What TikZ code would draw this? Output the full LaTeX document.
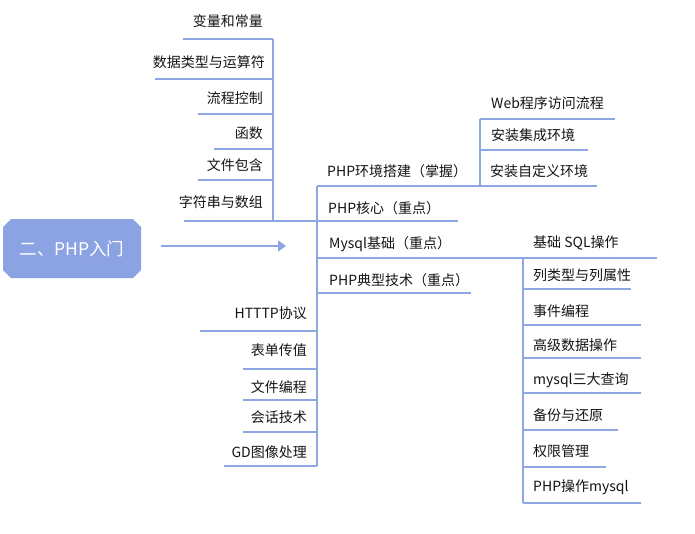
\documentclass[tikz,border=0pt]{standalone}
\usepackage{fontspec}
\setmainfont{Noto Sans CJK SC}
\usetikzlibrary{arrows.meta}
\definecolor{linec}{RGB}{142,166,228}
\definecolor{rootc}{RGB}{139,163,227}
\definecolor{txt}{RGB}{20,20,20}
\begin{document}
\begin{tikzpicture}[x=1pt,y=-1pt,
  branch/.style={draw=linec,line width=2pt},
  lbl/.style={font=\fontsize{14}{17}\selectfont,text=txt,inner sep=0pt},
  lblr/.style={lbl,anchor=east},
  lbll/.style={lbl,anchor=west},
  rootbox/.style={rectangle,draw=none,minimum width=138pt,minimum height=59pt,inner sep=0pt,
    text=white,font=\fontsize{17.5}{20}\selectfont}]
\useasboundingbox (0,0) rectangle (695,533);

% root box with cut corners
\fill[rootc] (11,219) -- (133,219) -- (141,227) -- (141,270) -- (133,278)
  -- (11,278) -- (3,270) -- (3,227) -- cycle;
\node[rootbox] (root) at (72,248.5) {二、PHP入门};
\coordinate (arrS) at (161,246);
\coordinate (arrE) at (286,246);
\draw[draw=linec,fill=linec,line width=2pt,-{Triangle[length=8pt,width=11pt]}] (arrS) -- (arrE);

% junction coordinates
\coordinate (tlTop) at (273,39);
\coordinate (tlBot) at (273,221);
\coordinate (mTop) at (317,186);
\coordinate (mBot) at (317,466);
\coordinate (eTop) at (480,119);
\coordinate (eBot) at (480,186);
\coordinate (sTop) at (523,258);
\coordinate (sBot) at (523,503);

% spines
\draw[branch] (tlTop) -- (tlBot);
\draw[branch] (mTop) -- (mBot);
\draw[branch] (eTop) -- (eBot);
\draw[branch] (sTop) -- (sBot);

% upper left group
\node[lblr] (a1) at (263,21) {变量和常量};
\node[lblr] (a2) at (265,62) {数据类型与运算符};
\node[lblr] (a3) at (263,98) {流程控制};
\node[lblr] (a4) at (263,133) {函数};
\node[lblr] (a5) at (263,165) {文件包含};
\node[lblr] (a6) at (263,202) {字符串与数组};
\draw[branch] (183,39) -- (tlTop);
\draw[branch] (155,79) -- (273,79);
\draw[branch] (198,114) -- (273,114);
\draw[branch] (214,149) -- (273,149);
\draw[branch] (198,180) -- (273,180);
\draw[branch] (184,221) -- (458,221);

% main branches
\node[lbll] (b1) at (327,171) {PHP环境搭建（掌握）};
\node[lbll] (b2) at (328,208) {PHP核心（重点）};
\node[lbll] (b3) at (329,244) {Mysql基础（重点）};
\node[lbll] (b4) at (329,280) {PHP典型技术（重点）};
\draw[branch] (mTop) -- (597,186);
\draw[branch] (sTop) -- (317,258);
\draw[branch] (sTop) -- (657,258);
\draw[branch] (317,293) -- (471,293);

% environment group
\node[lbll] (c1) at (491,103) {Web程序访问流程};
\node[lbll] (c2) at (491,135) {安装集成环境};
\node[lbll] (c3) at (490,171) {安装自定义环境};
\draw[branch] (eTop) -- (615,119);
\draw[branch] (480,150) -- (588,150);

% mysql group
\node[lbll] (d0) at (533,243) {基础 SQL操作};
\node[lbll] (d1) at (533,275) {列类型与列属性};
\node[lbll] (d2) at (533,311) {事件编程};
\node[lbll] (d3) at (533,345) {高级数据操作};
\node[lbll] (d4) at (533,380) {mysql三大查询};
\node[lbll] (d5) at (533,415) {备份与还原};
\node[lbll] (d6) at (533,451) {权限管理};
\node[lbll] (d7) at (533,487) {PHP操作mysql};
\draw[branch] (523,289) -- (631,289);
\draw[branch] (523,325) -- (641,325);
\draw[branch] (523,358) -- (641,358);
\draw[branch] (523,393) -- (641,393);
\draw[branch] (523,430) -- (618,430);
\draw[branch] (523,467) -- (606,467);
\draw[branch] (sBot) -- (641,503);

% lower left group
\node[lblr] (e1) at (307,313) {HTTTP协议};
\node[lblr] (e2) at (307,350) {表单传值};
\node[lblr] (e3) at (307,387) {文件编程};
\node[lblr] (e4) at (307,417) {会话技术};
\node[lblr] (e5) at (307,452) {GD图像处理};
\draw[branch] (200,331) -- (317,331);
\draw[branch] (243,369) -- (317,369);
\draw[branch] (243,400) -- (317,400);
\draw[branch] (243,432) -- (317,432);
\draw[branch] (224,466) -- (mBot);
\end{tikzpicture}
\end{document}
